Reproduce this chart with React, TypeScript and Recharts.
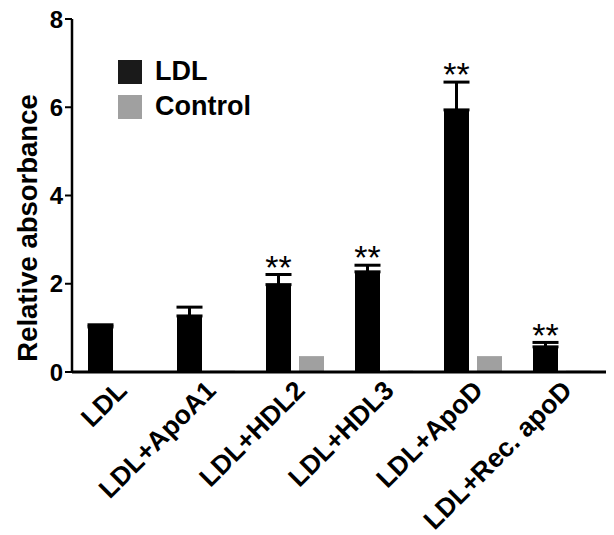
import React from "react";
import { BarChart, Bar, XAxis, YAxis, ErrorBar, LabelList } from "recharts";

const categories = ["LDL", "LDL+ApoA1", "LDL+HDL2", "LDL+HDL3", "LDL+ApoD", "LDL+Rec. apoD"];
const ldlValues = [1.02, 1.27, 1.98, 2.27, 5.94, 0.57];
const ldlErrors = [0.05, 0.2, 0.23, 0.15, 0.63, 0.1];
const controlValues = [0, 0.03, 0.36, 0.03, 0.36, 0.03];
const significance = ["", "", "**", "**", "**", "**"];
const yTicks = [0, 2, 4, 6, 8];
const seriesNames = ["LDL", "Control"];
const seriesColors = ["#1a1a1a", "#a0a0a0"];

const data = categories.map((c, i) => ({
  name: c,
  ldl: ldlValues[i],
  ldlErr: [0, ldlErrors[i]],
  control: controlValues[i],
}));

const FONT = "'Liberation Sans', Arial, Helvetica, sans-serif";

const XTick = (props: any) => {
  const { x, y, payload } = props;
  const ax = x + 12;
  const ay = y + 12;
  return (
    <text
      x={ax}
      y={ay}
      transform={`rotate(-45, ${ax}, ${ay})`}
      textAnchor="end"
      fontFamily={FONT}
      fontWeight="bold"
      fontSize={26.5}
      fill="#000"
    >
      {payload.value}
    </text>
  );
};

const StarLabel = (props: any) => {
  const { x, y, width, height, value, index } = props;
  const sig = significance[index];
  if (!sig) return null;
  const pxPerUnit = value ? height / value : 0;
  const errPx = ldlErrors[index] * pxPerUnit;
  const capTop = y - errPx - 1.5;
  const fs = 34;
  const baseY = capTop - 9 + 0.43 * fs;
  return (
    <text x={x + width / 2} y={baseY} textAnchor="middle" fontFamily={FONT} fontSize={fs} fill="#000">
      {sig}
    </text>
  );
};

const LegendBox = () => (
  <div
    style={{
      position: "absolute",
      left: 118,
      top: 54,
      fontFamily: FONT,
      fontWeight: "bold",
      fontSize: 27,
      color: "#000",
      lineHeight: "35px",
    }}
  >
    {seriesNames.map((n, i) => (
      <div key={n} style={{ display: "flex", alignItems: "center", height: 35 }}>
        <div style={{ width: 24, height: 24, background: seriesColors[i], marginRight: 13 }} />
        <span>{n}</span>
      </div>
    ))}
  </div>
);

const YLabel = () => (
  <text
    x={37}
    y={228}
    transform="rotate(-90, 37, 228)"
    textAnchor="middle"
    fontFamily={FONT}
    fontWeight="bold"
    fontSize={27.5}
    fill="#000"
  >
    Relative absorbance
  </text>
);

export default function App() {
  return (
    <div style={{ position: "absolute", left: 0, top: 0, width: 614, height: 535, background: "#fff" }}>
      <BarChart
        width={614}
        height={535}
        data={data}
        margin={{ top: 19, right: 8, bottom: 0, left: 0 }}
        barCategoryGap={15.5}
        barGap={8}
      >
        <YAxis
          width={72}
          domain={[0, 8]}
          ticks={yTicks}
          interval={0}
          axisLine={{ stroke: "#000", strokeWidth: 2.5 }}
          tickLine={{ stroke: "#000", strokeWidth: 2 }}
          tickSize={7}
          tick={{ fill: "#000", fontSize: 24, fontWeight: "bold", fontFamily: FONT }}
          label={<YLabel />}
        />
        <XAxis
          dataKey="name"
          height={163}
          interval={0}
          axisLine={{ stroke: "#000", strokeWidth: 3 }}
          tickLine={false}
          tick={<XTick />}
        />
        <Bar dataKey="ldl" name={seriesNames[0]} fill="#000" barSize={25} isAnimationActive={false}>
          <ErrorBar dataKey="ldlErr" width={13} strokeWidth={3} stroke="#000" direction="y" />
          <LabelList dataKey="ldl" content={<StarLabel />} />
        </Bar>
        <Bar dataKey="control" name={seriesNames[1]} fill={seriesColors[1]} barSize={25} isAnimationActive={false} />
      </BarChart>
      <LegendBox />
    </div>
  );
}
